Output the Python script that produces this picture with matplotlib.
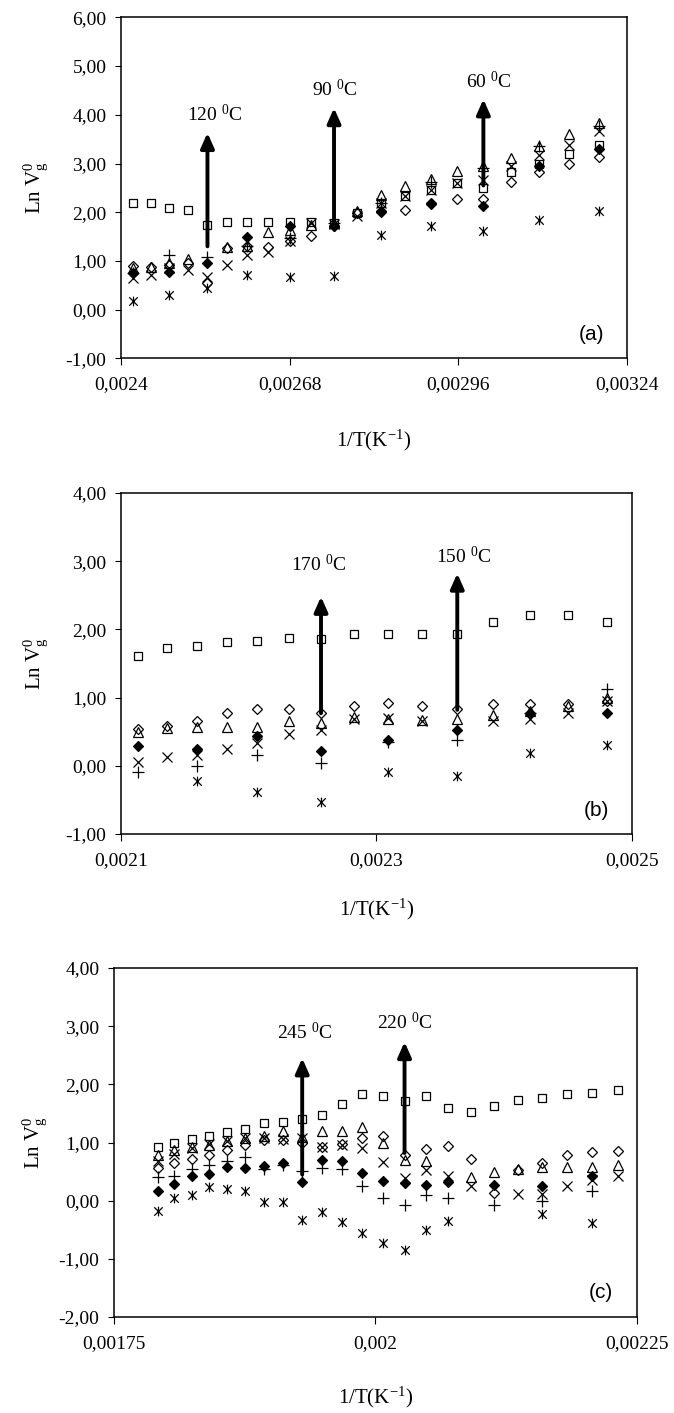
import numpy as np
import matplotlib
matplotlib.use('Agg')
import matplotlib.pyplot as plt
from matplotlib.path import Path

nan = np.nan

# ---------- panel (a): 140 ... 40 C ----------
x_a = [0.00242043, 0.00245008, 0.00248047, 0.00251161, 0.00254356, 0.00257632, 0.00260995,
       0.00264445, 0.00267989, 0.00271628, 0.00275368, 0.00279213, 0.00283166, 0.00287232,
       0.00291418, 0.00295727, 0.00300165, 0.00304739, 0.00309454, 0.00314317, 0.00319336]
sq_a = [2.19, 2.19, 2.08, 2.04, 1.73, 1.80, 1.80, 1.80, 1.80, 1.80, 1.77, 1.98, 2.19, 2.34,
        2.46, 2.60, 2.50, 2.82, 2.98, 3.20, 3.39]
dia_a = [0.89, 0.87, 0.92, 0.96, 0.54, 1.27, 1.31, 1.29, 1.40, 1.52, 1.71, 1.98, 2.00, 2.05,
         2.18, 2.27, 2.27, 2.62, 2.82, 2.98, 3.14]
tri_a = [0.86, 0.88, 0.96, 1.03, nan, 1.28, 1.31, 1.59, 1.64, 1.74, 1.77, 2.02, 2.36, 2.53,
         2.69, 2.84, 2.94, 3.11, 3.35, 3.61, 3.83]
xx_a = [0.65, 0.72, 0.86, 0.82, 0.68, 0.92, 1.13, 1.19, 1.40, 1.78, 1.76, 1.92, 2.19, 2.34,
        2.46, 2.60, 2.67, 2.94, 3.18, 3.39, 3.66]
fil_a = [0.75, nan, 0.77, nan, 0.96, nan, 1.50, nan, 1.71, nan, 1.71, nan, 2.02, nan,
         2.16, nan, 2.12, nan, 2.94, nan, 3.29]
plus_a = [0.75, nan, 1.13, nan, 1.09, nan, 1.31, nan, 1.47, nan, 1.78, nan, 2.19, nan,
          2.62, nan, 2.90, nan, 3.35, nan, 3.77]
ast_a = [0.17, nan, 0.31, nan, 0.44, nan, 0.72, nan, 0.67, nan, 0.69, nan, 1.54, nan,
         1.71, nan, 1.61, nan, 1.84, nan, 2.02]

# ---------- panel (b): 200 ... 130 C ----------
x_b = [0.00211349, 0.00213607, 0.00215913, 0.00218269, 0.00220677, 0.00223140, 0.00225657,
       0.00228232, 0.00230867, 0.00233563, 0.00236323, 0.00239149, 0.00242043, 0.00245008,
       0.00248047]
sq_b = [1.61, 1.73, 1.76, 1.81, 1.83, 1.88, 1.86, 1.93, 1.93, 1.93, 1.93, 2.11, 2.21, 2.21, 2.11]
dia_b = [0.54, 0.58, 0.66, 0.78, 0.83, 0.83, 0.78, 0.88, 0.92, 0.88, 0.83, 0.90, 0.90, 0.90, 0.95]
tri_b = [0.50, 0.55, 0.57, 0.57, 0.57, 0.65, 0.62, 0.72, 0.69, 0.67, 0.68, 0.74, 0.81, 0.87, 1.00]
xx_b = [0.05, 0.13, 0.16, 0.25, 0.34, 0.46, 0.52, 0.69, 0.70, 0.65, nan, 0.65, 0.69, 0.78, 0.95]
fil_b = [0.29, nan, 0.24, nan, 0.44, nan, 0.22, nan, 0.38, nan, 0.52, nan, 0.77, nan, 0.78]
plus_b = [-0.09, nan, -0.01, nan, 0.16, nan, 0.04, nan, 0.35, nan, 0.38, nan, 0.77, nan, 1.12]
ast_b = [nan, nan, -0.23, nan, -0.38, nan, -0.53, nan, -0.09, nan, -0.15, nan, 0.18, nan, 0.31]

# ---------- panel (c): 285 ... 175 C ----------
x_c = [0.00179163, 0.00180783, 0.00182432, 0.00184111, 0.00185822, 0.00187564, 0.00189340,
       0.00191150, 0.00192994, 0.00194875, 0.00196792, 0.00198748, 0.00200743, 0.00202778,
       0.00204855, 0.00206975, 0.00209139, 0.00211349, 0.00213607, 0.00215913, 0.00218269,
       0.00220677, 0.00223140]
sq_c = [0.92, 0.99, 1.06, 1.12, 1.18, 1.24, 1.33, 1.35, 1.40, 1.48, 1.66, 1.84, 1.80, 1.71,
        1.80, 1.59, 1.52, 1.62, 1.73, 1.76, 1.83, 1.86, 1.91]
dia_c = [0.57, 0.64, 0.72, 0.79, 0.88, 0.95, 1.05, 1.05, 1.00, 0.93, 0.97, 1.08, 1.11, 0.79,
         0.89, 0.94, 0.71, 0.13, 0.52, 0.65, 0.79, 0.83, 0.86]
tri_c = [0.79, 0.87, 0.93, 0.95, 1.02, 1.08, 1.12, 1.20, 1.10, 1.20, 1.20, 1.26, 0.99, 0.70,
         0.69, nan, 0.40, 0.50, 0.55, 0.58, 0.58, 0.58, 0.62]
xx_c = [0.68, 0.80, 0.90, 0.97, 1.02, 1.08, 1.08, 1.06, 1.07, 0.93, 0.95, 0.90, 0.66, 0.39,
        0.53, 0.42, 0.25, nan, 0.12, 0.12, 0.25, 0.36, 0.43]
fil_c = [0.17, 0.29, 0.43, 0.46, 0.58, 0.56, 0.60, 0.64, 0.33, 0.70, 0.69, 0.47, 0.34, 0.30,
         0.27, 0.33, nan, 0.27, nan, 0.25, nan, 0.43, nan]
plus_c = [0.40, 0.43, 0.55, 0.62, 0.68, 0.75, 0.55, 0.62, 0.51, 0.57, 0.54, 0.25, 0.05, -0.08,
          0.10, 0.05, nan, -0.07, nan, -0.01, nan, 0.16, nan]
ast_c = [-0.17, 0.04, 0.10, 0.24, 0.20, 0.16, -0.03, -0.03, -0.33, -0.20, -0.37, -0.55, -0.73,
         -0.85, -0.50, -0.35, nan, nan, nan, -0.23, nan, -0.38, nan]

# arrows: x position, bottom, top ; labels: text, x, y
arr_a = [(0.00254356, 1.30, 3.63), (0.00275368, 1.78, 4.14), (0.00300165, 2.55, 4.32)]
lab_a = [('120', 0.0025555, 4.00), ('90', 0.0027544, 4.52), ('60', 0.0030108, 4.69)]
arr_b = [(0.00225657, 0.77, 2.48), (0.00236323, 0.82, 2.82)]
lab_b = [('170', 0.0022544, 2.95), ('150', 0.0023685, 3.07)]
arr_c = [(0.00192994, 0.45, 2.45), (0.00202778, 0.82, 2.73)]
lab_c = [('245', 0.0019326, 2.90), ('220', 0.0020282, 3.06)]

xt_a = [0.0024, 0.00268, 0.00296, 0.00324]
xl_a = ['0,0024', '0,00268', '0,00296', '0,00324']
xt_b = [0.0021, 0.0023, 0.0025]
xl_b = ['0,0021', '0,0023', '0,0025']
xt_c = [0.00175, 0.002, 0.00225]
xl_c = ['0,00175', '0,002', '0,00225']
yt_a = [-1, 0, 1, 2, 3, 4, 5, 6]
yt_b = [-1, 0, 1, 2, 3, 4]
yt_c = [-2, -1, 0, 1, 2, 3, 4]

plt.rcParams['font.family'] = ['Liberation Serif', 'DejaVu Serif']
plt.rcParams['mathtext.fontset'] = 'custom'
plt.rcParams['mathtext.rm'] = 'Liberation Serif'
plt.rcParams['mathtext.it'] = 'Liberation Serif:italic'
plt.rcParams['mathtext.bf'] = 'Liberation Serif:bold'

# Excel-like star marker (x with a vertical bar)
star = Path([(-1, -1), (1, 1), (-1, 1), (1, -1), (0, -1.15), (0, 1.15)],
            [Path.MOVETO, Path.LINETO, Path.MOVETO, Path.LINETO, Path.MOVETO, Path.LINETO])

mk = {
    'fil': dict(marker='D', ms=5.0, mfc='k'),
    'sq': dict(marker='s', ms=6, mfc='none'),
    'tri': dict(marker='^', ms=7, mfc='none'),
    'xx': dict(marker='x', ms=6.5, mfc='none'),
    'ast': dict(marker=star, ms=7, mfc='none'),
    'plus': dict(marker='+', ms=8, mfc='none'),
    'dia': dict(marker='D', ms=5.0, mfc='none'),
}

fig = plt.figure(figsize=(6.74, 14.13), dpi=100)

panels = [
    dict(pos=[0.1795, 0.7464, 0.7507, 0.2413], x=x_a,
         ys=dict(fil=fil_a, sq=sq_a, tri=tri_a, xx=xx_a, ast=ast_a, plus=plus_a, dia=dia_a),
         arr=arr_a, lab=lab_a, xt=xt_a, xl=xl_a, yt=yt_a, tag='(a)', ylx=-0.140, xly=-0.205),
    dict(pos=[0.1795, 0.4098, 0.7582, 0.2413], x=x_b,
         ys=dict(fil=fil_b, sq=sq_b, tri=tri_b, xx=xx_b, ast=ast_b, plus=plus_b, dia=dia_b),
         arr=arr_b, lab=lab_b, xt=xt_b, xl=xl_b, yt=yt_b, tag='(b)', ylx=-0.139, xly=-0.185),
    dict(pos=[0.1691, 0.0679, 0.7760, 0.2470], x=x_c,
         ys=dict(fil=fil_c, sq=sq_c, tri=tri_c, xx=xx_c, ast=ast_c, plus=plus_c, dia=dia_c),
         arr=arr_c, lab=lab_c, xt=xt_c, xl=xl_c, yt=yt_c, tag='(c)', ylx=-0.124, xly=-0.195),
]

for p in panels:
    ax = fig.add_axes(p['pos'])
    for key, y in p['ys'].items():
        ax.plot(p['x'], y, linestyle='none', color='k', mec='k', mew=0.9, **mk[key])
    for xa, y0, y1 in p['arr']:
        ax.annotate('', xy=(xa, y1), xytext=(xa, y0),
                    arrowprops=dict(arrowstyle='-|>,head_length=0.45,head_width=0.2',
                                    color='k', lw=2.8, mutation_scale=20,
                                    shrinkA=0, shrinkB=0))
    for t, xt, yt in p['lab']:
        ax.text(xt, yt, t + r' $^{0}$C', ha='center', va='center', fontsize=14)
    ax.set_xlim(p['xt'][0], p['xt'][-1])
    ax.set_ylim(p['yt'][0], p['yt'][-1])
    ax.set_xticks(p['xt'])
    ax.set_xticklabels(p['xl'])
    ax.set_yticks(p['yt'])
    ax.set_yticklabels([f'{v:.2f}'.replace('.', ',') for v in p['yt']])
    ax.tick_params(axis='x', direction='out', length=5, width=0.8, pad=8, labelsize=14)
    ax.tick_params(axis='y', direction='out', length=4.5, width=0.8, pad=6, labelsize=14)
    for s in ax.spines.values():
        s.set_linewidth(1.1)
    ax.text(0.93, 0.07, p['tag'], transform=ax.transAxes, ha='center', va='center',
            fontsize=15, family='Liberation Sans')
    ax.set_ylabel(r'Ln V$_\mathrm{g}^{0}$', fontsize=15)
    ax.yaxis.set_label_coords(p['ylx'], 0.5)
    ax.set_xlabel(r'1/T(K$^{-1}$)', fontsize=15)
    ax.xaxis.set_label_coords(0.5, p['xly'])

fig.savefig('out.png', dpi=100)
